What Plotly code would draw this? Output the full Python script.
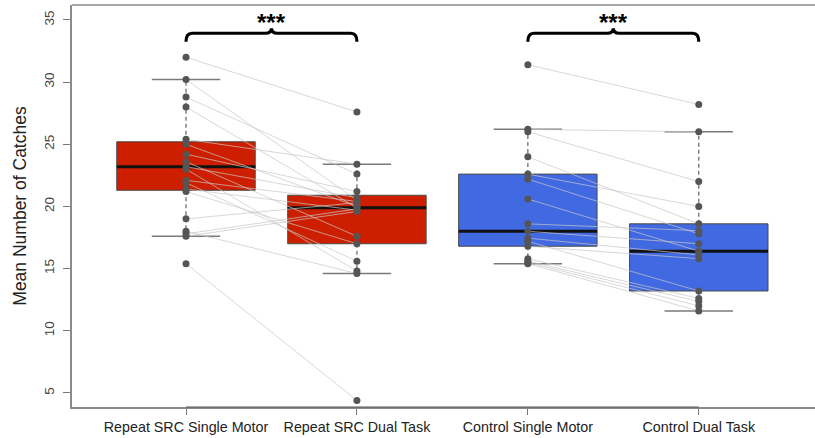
import plotly.graph_objects as go

# ---------------- data ----------------
categories = ["Repeat SRC Single Motor", "Repeat SRC Dual Task",
              "Control Single Motor", "Control Dual Task"]
cat_pos = [1, 2, 3, 4]

# paired subjects: single motor -> dual task
src_single = [32.0, 30.2, 28.8, 28.0, 25.4, 25.0, 24.2, 23.6, 23.2, 23.0,
              22.1, 21.9, 21.4, 21.2, 19.0, 18.0, 17.8, 17.6, 15.4]
src_dual = [27.6, 20.5, 22.6, 19.9, 23.4, 20.0, 21.2, 17.6, 20.7, 14.8,
            20.4, 15.6, 19.7, 17.0, 20.3, 14.6, 19.8, 19.6, 4.4]
ctrl_single = [31.4, 26.2, 26.0, 24.0, 22.6, 22.2, 20.6, 18.6, 18.0, 17.45,
               17.2, 16.8, 15.8, 15.6, 15.5, 15.4]
ctrl_dual = [28.2, 26.0, 22.0, 18.6, 20.0, 17.8, 16.4, 18.05, 17.0, 16.1,
             13.2, 15.8, 12.6, 12.35, 12.0, 11.6]

# box statistics per category
box_q1 = [21.3, 17.0, 16.8, 13.2]
box_median = [23.2, 19.9, 18.0, 16.4]
box_q3 = [25.2, 20.9, 22.6, 18.6]
whisker_low = [17.6, 14.6, 15.4, 11.6]
whisker_high = [30.2, 23.4, 26.2, 26.0]

box_colors = ["#CD1E00", "#CD1E00", "#4169E1", "#4169E1"]

sig_pairs = [(1, 2), (3, 4)]
sig_labels = ["***", "***"]
y_ticks = [5, 10, 15, 20, 25, 30, 35]

# ---------------- styling constants ----------------
BOX_W = 0.81
CAP_W = 0.40
PT_COLOR = "#555555"
FONT = "Liberation Sans, Arial, sans-serif"

fig = go.Figure()

# boxes
for i, x in enumerate(cat_pos):
    fig.add_trace(go.Box(
        x=[x], q1=[box_q1[i]], median=[box_median[i]], q3=[box_q3[i]],
        lowerfence=[box_q1[i]], upperfence=[box_q3[i]],
        width=BOX_W, whiskerwidth=0,
        fillcolor=box_colors[i], line=dict(color="#4a4a4a", width=1),
        boxpoints=False, showlegend=False, hoverinfo="skip"))

# whiskers (dashed) and caps
wx, wy, cx, cy, mx, my = [], [], [], [], [], []
for i, x in enumerate(cat_pos):
    wx += [x, x, None, x, x, None]
    wy += [box_q3[i], whisker_high[i], None, box_q1[i], whisker_low[i], None]
    for v in (whisker_high[i], whisker_low[i]):
        cx += [x - CAP_W / 2, x + CAP_W / 2, None]
        cy += [v, v, None]
    mx += [x - BOX_W / 2, x + BOX_W / 2, None]
    my += [box_median[i], box_median[i], None]

fig.add_trace(go.Scatter(x=wx, y=wy, mode="lines",
                         line=dict(color="#707070", width=1.3, dash="4px,3px"),
                         showlegend=False, hoverinfo="skip"))
fig.add_trace(go.Scatter(x=cx, y=cy, mode="lines",
                         line=dict(color="#7a7a7a", width=1.5),
                         showlegend=False, hoverinfo="skip"))
fig.add_trace(go.Scatter(x=mx, y=my, mode="lines",
                         line=dict(color="#111111", width=3),
                         showlegend=False, hoverinfo="skip"))

# paired lines
lx, ly = [], []
for a, b in zip(src_single, src_dual):
    lx += [cat_pos[0], cat_pos[1], None]
    ly += [a, b, None]
for a, b in zip(ctrl_single, ctrl_dual):
    lx += [cat_pos[2], cat_pos[3], None]
    ly += [a, b, None]
fig.add_trace(go.Scatter(x=lx, y=ly, mode="lines",
                         line=dict(color="rgba(200,200,200,0.7)", width=1),
                         showlegend=False, hoverinfo="skip"))

# points
for x, vals in zip(cat_pos, [src_single, src_dual, ctrl_single, ctrl_dual]):
    fig.add_trace(go.Scatter(x=[x] * len(vals), y=vals, mode="markers",
                             marker=dict(color=PT_COLOR, size=7),
                             showlegend=False, hoverinfo="skip"))

# significance brackets
YB, DROP, RISE, RX = 33.93, 0.68, 0.40, 0.035
for (a, b), lab in zip(sig_pairs, sig_labels):
    xm = (a + b) / 2
    path = (f"M {a},{YB - DROP} Q {a},{YB} {a + RX},{YB} "
            f"L {xm - RX},{YB} Q {xm},{YB} {xm},{YB + RISE} "
            f"Q {xm},{YB} {xm + RX},{YB} L {b - RX},{YB} "
            f"Q {b},{YB} {b},{YB - DROP}")
    fig.add_shape(type="path", path=path, xref="x", yref="y",
                  line=dict(color="black", width=3.2))
    fig.add_annotation(x=xm, y=YB + 0.9, text=f"<b>{lab}</b>", showarrow=False,
                       font=dict(size=24, color="black", family=FONT),
                       yanchor="middle")

# frame: top line, darker axis segment between first and last tick
fig.add_shape(type="line", xref="paper", yref="paper", x0=0, x1=1, y0=1, y1=1,
              line=dict(color="#8a8a8a", width=1.5))
fig.add_shape(type="line", xref="x", yref="paper", x0=cat_pos[0], x1=cat_pos[-1],
              y0=0, y1=0, line=dict(color="#555555", width=1.2))

fig.update_layout(
    width=815, height=438,
    margin=dict(l=72, r=0, t=5, b=31),
    plot_bgcolor="white", paper_bgcolor="white",
    font=dict(family=FONT),
    xaxis=dict(range=[0.333, 4.68], tickmode="array", tickvals=cat_pos,
               ticktext=categories, showgrid=False, zeroline=False,
               showline=True, linecolor="#8a8a8a", linewidth=1.5,
               ticks="outside", ticklen=6, tickcolor="#777777",
               tickfont=dict(size=14.3, color="#222222")),
    yaxis=dict(range=[3.87, 36.2], tickvals=y_ticks, showgrid=False,
               zeroline=False, showline=True, linecolor="#8a8a8a", linewidth=1.5,
               ticks="outside", ticklen=7, tickcolor="#777777", tickangle=-90,
               ticklabelstandoff=4,
               tickfont=dict(size=13.5, color="#444444"),
               title=dict(text="Mean Number of Catches", standoff=11,
                          font=dict(size=17.5, color="#222222"))),
)

fig.write_html("out.html", config={"displayModeBar": False},
               post_script="document.body.style.margin='0';document.body.style.padding='0';")
